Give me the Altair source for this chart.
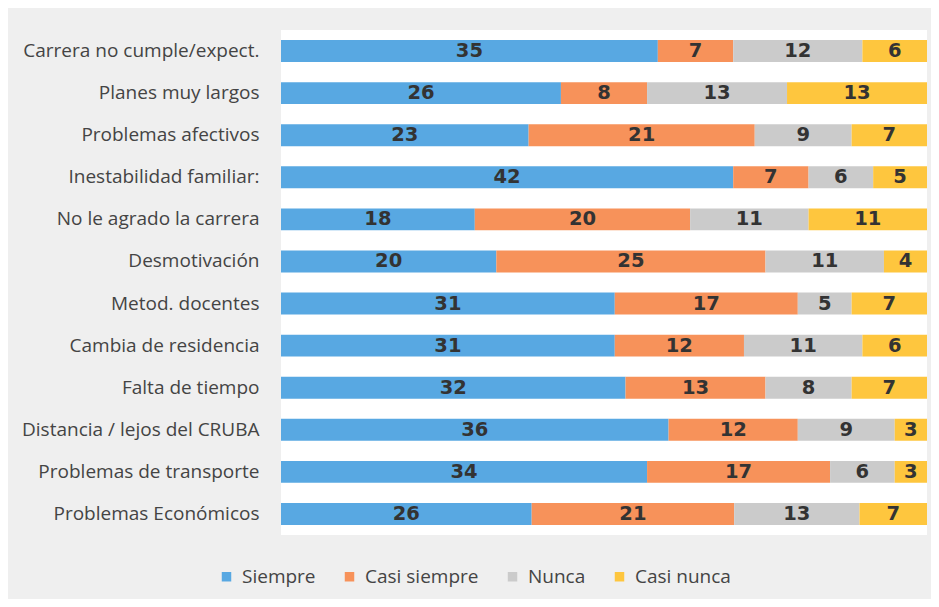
import altair as alt
import pandas as pd

categories = [
    "Carrera no cumple/expect.",
    "Planes muy largos",
    "Problemas afectivos",
    "Inestabilidad familiar:",
    "No le agrado la carrera",
    "Desmotivación",
    "Metod. docentes",
    "Cambia de residencia",
    "Falta de tiempo",
    "Distancia / lejos del CRUBA",
    "Problemas de transporte",
    "Problemas Económicos",
]
series = ["Siempre", "Casi siempre", "Nunca", "Casi nunca"]
siempre = [35, 26, 23, 42, 18, 20, 31, 31, 32, 36, 34, 26]
casi_siempre = [7, 8, 21, 7, 20, 25, 17, 12, 13, 12, 17, 21]
nunca = [12, 13, 9, 6, 11, 11, 5, 11, 8, 9, 6, 13]
casi_nunca = [6, 13, 7, 5, 11, 4, 7, 6, 7, 3, 3, 7]
colors = ["#58a8e2", "#f7925a", "#cbcbcb", "#fec63e"]

rows = []
for s_i, (name, vals) in enumerate(zip(series, [siempre, casi_siempre, nunca, casi_nunca])):
    for cat, v in zip(categories, vals):
        rows.append({"causa": cat, "serie": name, "orden": s_i, "valor": v})
df = pd.DataFrame(rows)

base = alt.Chart(df).transform_joinaggregate(
    total="sum(valor)", groupby=["causa"]
).transform_window(
    acum="sum(valor)", sort=[alt.SortField("orden")], groupby=["causa"],
    frame=[None, 0]
).transform_calculate(
    x_end="datum.acum / datum.total",
    x_start="(datum.acum - datum.valor) / datum.total",
    x_mid="(datum.acum - datum.valor / 2) / datum.total",
)

y_enc = alt.Y(
    "causa:N", sort=categories, title=None,
    scale=alt.Scale(paddingInner=0.48, paddingOuter=0.24),
    axis=alt.Axis(ticks=False, domain=False, labelPadding=22, labelFont="Open Sans",
                  labelFontSize=19, labelColor="#444444", labelLimit=300),
)

bars = base.mark_bar().encode(
    x=alt.X("x_start:Q", axis=None, scale=alt.Scale(domain=[0, 1], nice=False, zero=True)),
    x2="x_end:Q",
    y=y_enc,
    color=alt.Color(
        "serie:N", sort=series,
        scale=alt.Scale(domain=series, range=colors),
        legend=alt.Legend(
            title=None, orient="none", direction="horizontal",
            legendX=-64, legendY=537, symbolType="square", symbolSize=90,
            symbolStrokeWidth=0, labelFont="Open Sans", labelFontSize=19,
            labelColor="#444444", columnPadding=24, labelOffset=6,
        ),
    ),
)

text = base.mark_text(
    font="DejaVu Sans", fontWeight="bold", fontSize=19.5, color="#333333", baseline="middle"
).encode(
    x=alt.X("x_mid:Q"),
    y=alt.Y("causa:N", sort=categories),
    text="valor:Q",
)

chart = alt.layer(bars, text).properties(
    width=646, height=505,
    autosize=alt.AutoSizeParams(type="none"),
    padding={"left": 273, "top": 22, "right": 4, "bottom": 64},
    background="#efefef",
).configure_view(fill="#ffffff", stroke=None)

chart.save("out.html", embed_options={"renderer": "svg", "actions": False})
